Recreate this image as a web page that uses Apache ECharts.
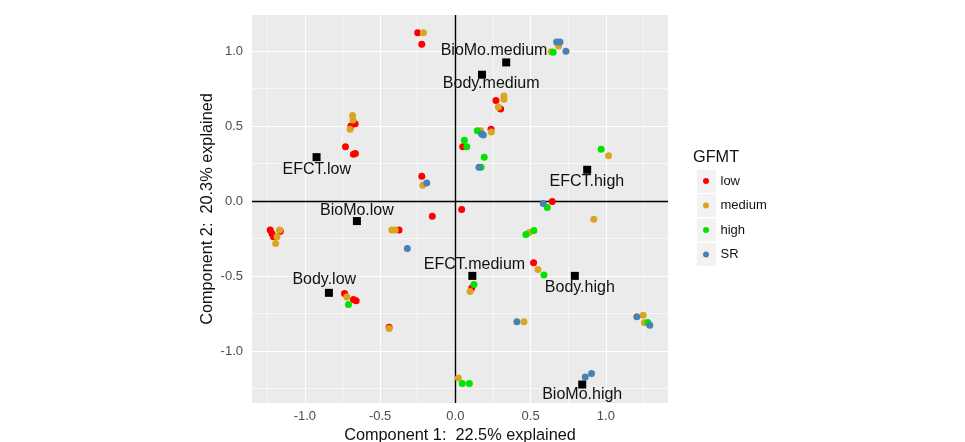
<!DOCTYPE html>
<html>
<head>
<meta charset="utf-8">
<script src="https://cdn.jsdelivr.net/npm/echarts@6/dist/echarts.min.js"></script>
<style>html,body{margin:0;padding:0;background:#fff;}#chart{width:965px;height:442px;}</style>
</head>
<body>
<div id="chart"></div>
<script>
// ---- data ----
var groupNames = ['low', 'medium', 'high', 'SR'];
var lowPoints = [[-0.250,1.122],[-0.223,1.045],[-0.666,0.516],[-0.694,0.500],[-0.730,0.362],[-0.677,0.313],[-0.664,0.318],[-0.223,0.165],[0.270,0.671],[0.301,0.613],[0.237,0.478],[0.049,0.362],[0.644,-0.002],[0.042,-0.055],[0.520,-0.411],[0.109,-0.578],[-1.230,-0.193],[-1.219,-0.215],[-1.208,-0.238],[-1.163,-0.200],[-0.153,-0.100],[-0.374,-0.193],[-0.736,-0.616],[-0.677,-0.656],[-0.659,-0.664],[-0.440,-0.840]];
var mediumPoints = [[-0.212,1.122],[-0.683,0.571],[-0.680,0.540],[-0.699,0.478],[-0.216,0.105],[0.686,1.033],[0.637,0.995],[0.323,0.700],[0.323,0.678],[0.286,0.627],[0.168,0.469],[0.239,0.460],[1.018,0.302],[0.920,-0.120],[0.491,-0.209],[0.549,-0.456],[0.098,-0.602],[0.456,-0.804],[1.248,-0.760],[1.257,-0.811],[0.020,-1.178],[-1.168,-0.193],[-1.185,-0.238],[-1.194,-0.282],[-0.422,-0.193],[-0.400,-0.193],[-0.721,-0.638],[-0.440,-0.848]];
var highPoints = [[0.650,0.991],[0.146,0.469],[0.060,0.405],[0.076,0.362],[0.192,0.293],[0.171,0.225],[0.969,0.345],[0.611,-0.042],[0.469,-0.222],[0.522,-0.196],[0.589,-0.493],[0.124,-0.556],[1.279,-0.809],[0.046,-1.215],[0.093,-1.215],[-0.710,-0.689]];
var srPoints = [[-0.190,0.120],[0.673,1.060],[0.695,1.060],[0.735,0.998],[0.175,0.447],[0.186,0.440],[0.157,0.225],[0.584,-0.016],[-0.319,-0.316],[0.409,-0.804],[1.206,-0.771],[1.292,-0.827],[0.863,-1.171],[0.905,-1.149]];
var centroidNames = ['EFCT.low','BioMo.medium','Body.medium','EFCT.high','BioMo.low','Body.low','EFCT.medium','Body.high','BioMo.high'];
var centroidX = [-0.922, 0.338, 0.177, 0.876, -0.654, -0.840, 0.113, 0.794, 0.843];
var centroidY = [0.293, 0.924, 0.842, 0.209, -0.133, -0.611, -0.498, -0.498, -1.222];
var labelX = [-0.921, 0.257, 0.238, 0.874, -0.654, -0.871, 0.127, 0.827, 0.843];
var labelY = [0.210, 1.000, 0.782, 0.130, -0.060, -0.522, -0.420, -0.578, -1.289];
var xTicks = [-1.0, -0.5, 0.0, 0.5, 1.0];
var yTicks = [-1.0, -0.5, 0.0, 0.5, 1.0];
var xMinor = [-1.25, -0.75, -0.25, 0.25, 0.75, 1.25];
var yMinor = [-1.25, -0.75, -0.25, 0.25, 0.75];
var xRange = [-1.351, 1.413];
var yRange = [-1.345, 1.240];
var xTitle = 'Component 1:  22.5% explained';
var yTitle = 'Component 2:  20.3% explained';
var legendTitle = 'GFMT';

// ---- styles ----
var colors = ['#FF0000', '#DAA520', '#00E400', '#4682B4'];
var FONT = '"Liberation Sans", Arial, Helvetica, sans-serif';

var chart = echarts.init(document.getElementById('chart'));

var gridLines = [];
xTicks.forEach(function (v) { gridLines.push({ xAxis: v, lineStyle: { color: '#fff', width: 1.1, type: 'solid' } }); });
yTicks.forEach(function (v) { gridLines.push({ yAxis: v, lineStyle: { color: '#fff', width: 1.1, type: 'solid' } }); });
xMinor.forEach(function (v) { gridLines.push({ xAxis: v, lineStyle: { color: '#fff', width: 0.55, type: 'solid' } }); });
yMinor.forEach(function (v) { gridLines.push({ yAxis: v, lineStyle: { color: '#fff', width: 0.55, type: 'solid' } }); });

var pointSets = [lowPoints, mediumPoints, highPoints, srPoints];
var series = [{
  type: 'scatter', name: '_grid', data: [], silent: true, z: 1,
  markLine: {
    silent: true, symbol: 'none', z: 1, animation: false,
    label: { show: false },
    data: gridLines
  }
}, {
  type: 'scatter', name: '_zero', data: [], silent: true, z: 1,
  markLine: {
    silent: true, symbol: 'none', z: 1.5, animation: false,
    label: { show: false },
    lineStyle: { color: '#000', width: 1.4, type: 'solid', opacity: 1 },
    data: [{ xAxis: 0 }, { yAxis: 0 }]
  }
}];
pointSets.forEach(function (pts, i) {
  series.push({
    type: 'scatter', name: groupNames[i], data: pts, z: 3,
    symbol: 'circle', symbolSize: 7,
    itemStyle: { color: colors[i], opacity: 1 }
  });
});
series.push({
  type: 'scatter', name: '_centroid', z: 4, symbol: 'rect', symbolSize: 8,
  itemStyle: { color: '#000', opacity: 1 },
  data: centroidNames.map(function (n, i) { return { name: n, value: [centroidX[i], centroidY[i]] }; })
});
series.push({
  type: 'scatter', name: '_labels', z: 5, symbolSize: 0.01,
  itemStyle: { color: 'rgba(0,0,0,0)', opacity: 1 },
  label: { show: true, position: 'inside', formatter: '{b}', color: '#111', opacity: 1, fontSize: 16, fontFamily: FONT },
  data: centroidNames.map(function (n, i) { return { name: n, value: [labelX[i], labelY[i]] }; })
});

var option = {
  animation: false,
  backgroundColor: '#ffffff',
  textStyle: { fontFamily: FONT },
  grid: { left: 252, right: 297, top: 15, bottom: 39, outerBoundsMode: 'none', containLabel: false, show: true, backgroundColor: '#EBEBEB', borderWidth: 0 },
  xAxis: {
    type: 'value', min: xRange[0], max: xRange[1],
    name: xTitle, nameLocation: 'middle', nameGap: 22.5,
    nameTextStyle: { fontSize: 16.3, color: '#111', fontFamily: FONT },
    axisLine: { show: false },
    splitLine: { show: false },
    axisTick: { show: true, customValues: xTicks, length: 4, lineStyle: { color: '#333', width: 1 } },
    axisLabel: { customValues: xTicks, margin: 7, fontSize: 13, color: '#4D4D4D', fontFamily: FONT,
      formatter: function (v) { return v.toFixed(1); } }
  },
  yAxis: {
    type: 'value', min: yRange[0], max: yRange[1],
    name: yTitle, nameLocation: 'middle', nameGap: 36, nameRotate: 90,
    nameTextStyle: { fontSize: 16.3, color: '#111', fontFamily: FONT },
    axisLine: { show: false },
    splitLine: { show: false },
    axisTick: { show: true, customValues: yTicks, length: 4, lineStyle: { color: '#333', width: 1 } },
    axisLabel: { customValues: yTicks, margin: 9, fontSize: 13, color: '#4D4D4D', fontFamily: FONT,
      formatter: function (v) { return v.toFixed(1); } }
  },
  legend: {
    data: groupNames.map(function (n) { return { name: n, icon: 'circle' }; }),
    orient: 'vertical', left: 698, top: 169,
    itemWidth: 19, itemHeight: 6, itemGap: 10.5,
    textStyle: { fontSize: 13, color: '#111', fontFamily: FONT, lineHeight: 14 },
    selectedMode: false
  },
  graphic: [
    { type: 'text', left: 693, top: 150, style: { text: legendTitle, fontSize: 16.3, fill: '#111', fontFamily: FONT } },
    { type: 'rect', left: 697, top: 170, z: -1, shape: { width: 19, height: 23 }, style: { fill: '#F2F2F2' } },
    { type: 'rect', left: 697, top: 194, z: -1, shape: { width: 19, height: 23 }, style: { fill: '#F2F2F2' } },
    { type: 'rect', left: 697, top: 218.5, z: -1, shape: { width: 19, height: 23 }, style: { fill: '#F2F2F2' } },
    { type: 'rect', left: 697, top: 243, z: -1, shape: { width: 19, height: 23 }, style: { fill: '#F2F2F2' } }
  ],
  series: series
};
chart.setOption(option);
</script>
</body>
</html>
